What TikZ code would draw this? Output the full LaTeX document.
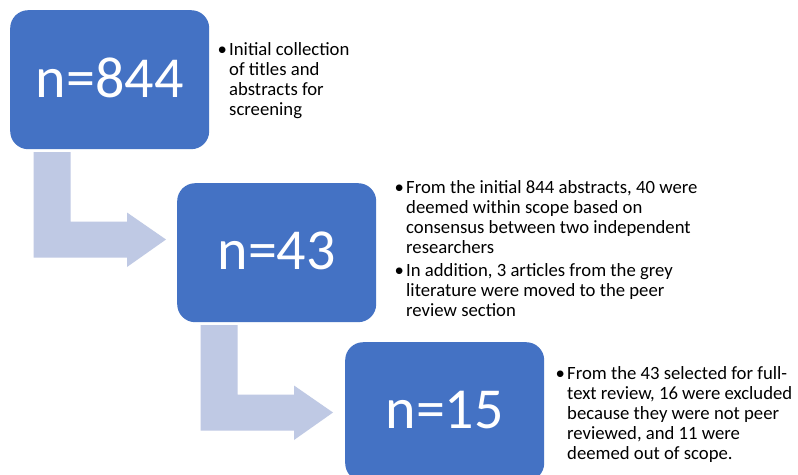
\documentclass[tikz,border=0pt]{standalone}
\usepackage{fontspec}
\setmainfont{Carlito}
\usetikzlibrary{calc}
\definecolor{boxblue}{HTML}{4472C4}
\definecolor{arrowblue}{HTML}{BFC9E4}
\newcommand\bul{\leavevmode\llap{\makebox[14pt][c]{•}}}
\newcommand\elbowarr[1]{%
  \fill[flowarrow]
    ($(#1.north west)+(23.5,142)$) -- ($(#1.north west)+(60.5,142)$)
    -- ($(#1.north west)+(60.5,211.5)$) -- ($(#1.north west)+(117,211.5)$)
    -- ($(#1.north west)+(117,202.5)$) -- ($(#1.north west)+(156,229.5)$)
    -- ($(#1.north west)+(117,257)$) -- ($(#1.north west)+(117,247.5)$)
    -- ($(#1.north west)+(23.5,247.5)$) -- cycle;}
\tikzset{
  nbox/.style={fill=boxblue, draw=none, rounded corners=18pt,
    minimum width=199pt, minimum height=139pt, inner sep=0pt,
    anchor=north west, text=white, font=\fontsize{58}{60}\selectfont,
    text depth=4pt},
  flowarrow/.style={fill=arrowblue},
  bullettext/.style={anchor=base west, inner sep=0pt, text=black,
    font=\fontsize{18.7}{20}\selectfont}
}
\begin{document}
\begin{tikzpicture}[x=1pt,y=-1pt]
\useasboundingbox (0,0) rectangle (798,474);
\clip (0,0) rectangle (798,474);
\fill[white] (0,0) rectangle (798,474);
\node[nbox] (b1) at (10,10) {n=844};
\node[nbox] (b2) at (177,183) {n=43};
\node[nbox] (b3) at (345,342) {n=15};
\elbowarr{b1}
\elbowarr{b2}
\node[bullettext] (t1) at (229,55) {\parbox[t]{200pt}{\raggedright
  \bul Initial collection\\
  of titles and\\
  abstracts for\\
  screening}};
\node[bullettext] (t2) at (406,193) {\parbox[t]{380pt}{\raggedright
  \bul From the initial 844 abstracts, 40 were\\
  deemed within scope based on\\
  consensus between two independent\\
  researchers\\[3pt]
  \bul In addition, 3 articles from the grey\\
  literature were moved to the peer\\
  review section}};
\node[bullettext] (t3) at (567,379) {\parbox[t]{230pt}{\raggedright
  \bul From the 43 selected for full-\\
  text review, 16 were excluded\\
  because they were not peer\\
  reviewed, and 11 were\\
  deemed out of scope.}};
\end{tikzpicture}
\end{document}
